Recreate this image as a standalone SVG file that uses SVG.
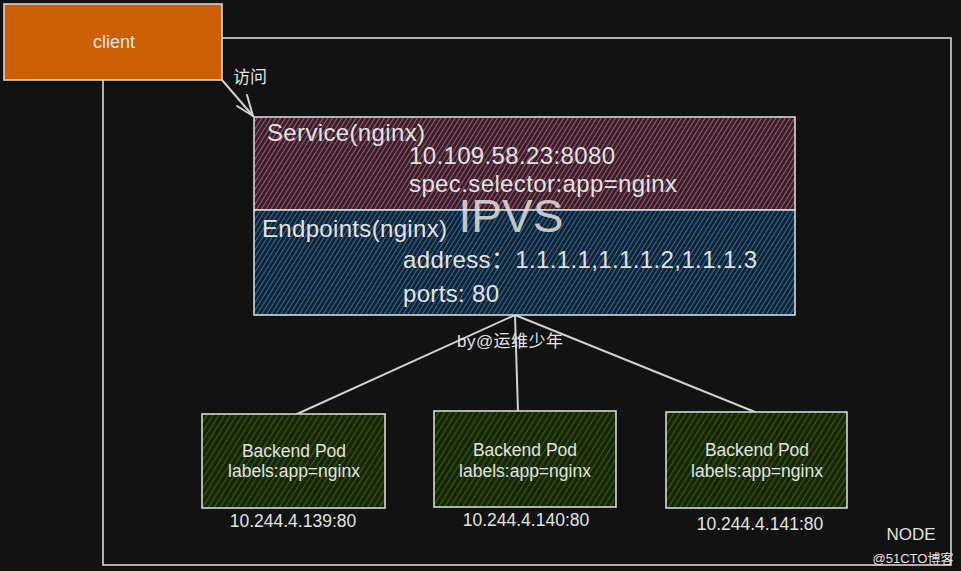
<svg xmlns="http://www.w3.org/2000/svg" width="961" height="571" viewBox="0 0 961 571">
<defs>
<pattern id="hPink" width="4" height="4" patternUnits="userSpaceOnUse" patternTransform="rotate(32)">
<rect width="4" height="4" fill="#38202b"/>
<line x1="0" y1="0" x2="0" y2="4" stroke="#a65c78" stroke-width="1.9"/>
</pattern>
<pattern id="hBlue" width="4" height="4" patternUnits="userSpaceOnUse" patternTransform="rotate(32)">
<rect width="4" height="4" fill="#122333"/>
<line x1="0" y1="0" x2="0" y2="4" stroke="#3270a0" stroke-width="1.9"/>
</pattern>
<pattern id="hGreen" width="5" height="5" patternUnits="userSpaceOnUse" patternTransform="rotate(32)">
<rect width="5" height="5" fill="#162508"/>
<line x1="0" y1="0" x2="0" y2="5" stroke="#375c10" stroke-width="2.2"/>
</pattern>
</defs>
<style>
.t{font-family:"Liberation Sans","Noto Sans CJK SC",sans-serif;fill:#e2e2e2}
.box{stroke:#d6d6d6;stroke-width:1.6}
.ln{stroke:#d0d0d0;stroke-width:2;fill:none;stroke-linecap:round}
.big{font-size:24px}
.pod{font-size:17.5px}
</style>
<rect width="961" height="571" fill="#121212"/>
<g id="node-area">
<rect x="103" y="38" width="848" height="527" fill="none" stroke="#d6d6d6" stroke-width="1.6"/>
<text class="t" x="911" y="540" font-size="17" text-anchor="middle" fill="#d8d8d8">NODE</text>
</g>
<g id="client">
<rect class="box" x="4" y="4" width="218" height="76" fill="#cc5f04"/>
<text class="t" x="114" y="48" font-size="18" text-anchor="middle" fill="#f0d8c0">client</text>
</g>
<g id="connectors">
<path class="ln" d="M222 80 L253 116"/>
<path class="ln" d="M253 116 L237 106 M253 116 L247 95"/>
<text class="t" x="233" y="83" font-size="17">访问</text>
<path class="ln" d="M515 315 L297 414"/>
<path class="ln" d="M515 315 L518 412"/>
<path class="ln" d="M515 315 L755 412"/>
</g>
<g id="service">
<rect class="box" x="254" y="117" width="541" height="93" fill="url(#hPink)"/>
<text class="t big" x="267" y="141" textLength="158">Service(nginx)</text>
<text class="t big" x="409" y="164" textLength="206">10.109.58.23:8080</text>
<text class="t big" x="409" y="192" textLength="268">spec.selector:app=nginx</text>
</g>
<g id="endpoints">
<rect class="box" x="254" y="210" width="541" height="105" fill="url(#hBlue)"/>
<text class="t big" x="262" y="237" textLength="185">Endpoints(nginx)</text>
<text class="t big" x="403" y="268" textLength="354">address：1.1.1.1,1.1.1.2,1.1.1.3</text>
<text class="t big" x="403" y="302" textLength="96">ports: 80</text>
</g>
<text class="t" x="511" y="232" font-size="46" text-anchor="middle" fill="#a0a0a0" fill-opacity="0.85">IPVS</text>
<text class="t" x="510" y="347" font-size="17" text-anchor="middle" textLength="106">by@运维少年</text>
<g id="pod1">
<rect class="box" x="202" y="414" width="183" height="94" fill="url(#hGreen)"/>
<text class="t pod" x="294" y="457" text-anchor="middle">Backend Pod</text>
<text class="t pod" x="294" y="477" text-anchor="middle">labels:app=nginx</text>
<text class="t pod" x="293" y="527" text-anchor="middle">10.244.4.139:80</text>
</g>
<g id="pod2">
<rect class="box" x="434" y="411" width="182" height="96" fill="url(#hGreen)"/>
<text class="t pod" x="525" y="456" text-anchor="middle">Backend Pod</text>
<text class="t pod" x="525" y="477" text-anchor="middle">labels:app=nginx</text>
<text class="t pod" x="526" y="526" text-anchor="middle">10.244.4.140:80</text>
</g>
<g id="pod3">
<rect class="box" x="666" y="412" width="181" height="96" fill="url(#hGreen)"/>
<text class="t pod" x="757" y="456" text-anchor="middle">Backend Pod</text>
<text class="t pod" x="757" y="477" text-anchor="middle">labels:app=nginx</text>
<text class="t pod" x="760" y="530" text-anchor="middle">10.244.4.141:80</text>
</g>
<text class="t" x="913" y="563" font-size="13" text-anchor="middle" fill="#cfcfcf">@51CTO博客</text>
</svg>
